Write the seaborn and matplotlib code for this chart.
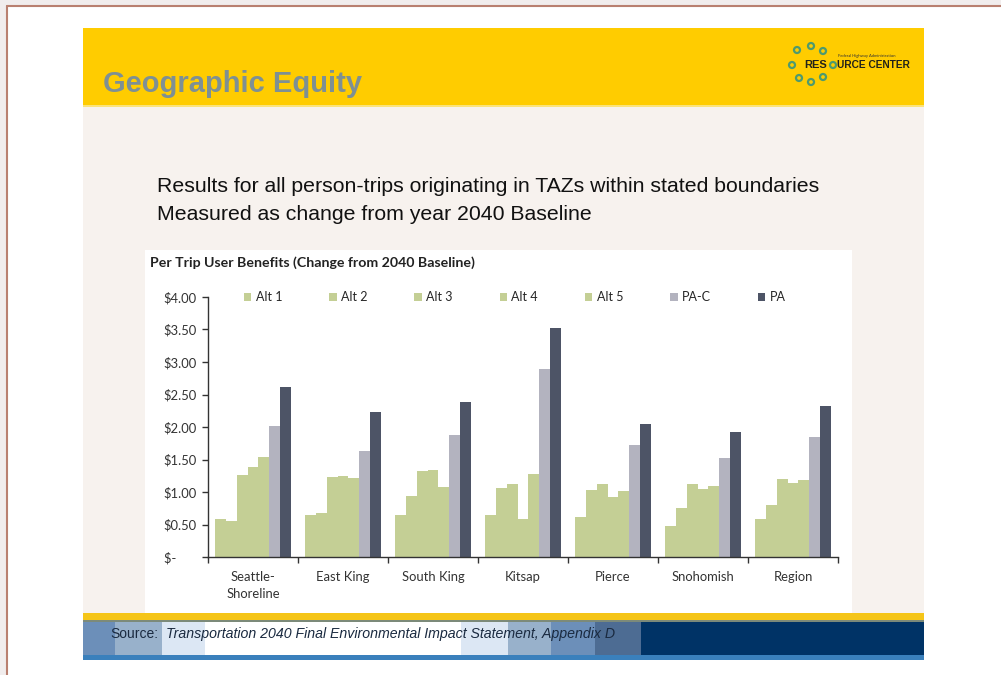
import matplotlib
matplotlib.use("Agg")
import matplotlib.pyplot as plt
import matplotlib.patches as mpatches
from matplotlib.ticker import FixedLocator, FuncFormatter
import numpy as np
import pandas as pd
import seaborn as sns

# ---- dados ----
regions = ["Seattle-\nShoreline", "East King", "South King", "Kitsap", "Pierce", "Snohomish", "Region"]
series = ["Alt 1", "Alt 2", "Alt 3", "Alt 4", "Alt 5", "PA-C", "PA"]
alt1 = [0.58, 0.65, 0.64, 0.65, 0.61, 0.47, 0.59]
alt2 = [0.55, 0.67, 0.94, 1.06, 1.03, 0.75, 0.80]
alt3 = [1.26, 1.23, 1.32, 1.13, 1.13, 1.12, 1.20]
alt4 = [1.38, 1.25, 1.34, 0.59, 0.92, 1.04, 1.14]
alt5 = [1.54, 1.22, 1.07, 1.28, 1.01, 1.09, 1.18]
pac = [2.01, 1.63, 1.87, 2.90, 1.72, 1.52, 1.84]
pa = [2.61, 2.23, 2.38, 3.53, 2.04, 1.92, 2.33]
y_ticks = [0, 0.5, 1.0, 1.5, 2.0, 2.5, 3.0, 3.5, 4.0]

values = [alt1, alt2, alt3, alt4, alt5, pac, pa]
df = pd.DataFrame([(r, s, v) for s, vals in zip(series, values) for r, v in zip(regions, vals)],
                  columns=["region", "series", "value"])

GREEN = "#C4CF95"
palette = {"Alt 1": GREEN, "Alt 2": GREEN, "Alt 3": GREEN, "Alt 4": GREEN,
           "Alt 5": GREEN, "PA-C": "#B3B3BF", "PA": "#4D5466"}

sns.set_theme(style="white")
plt.rcParams["font.family"] = ["Lato", "DejaVu Sans"]
ARIAL = ["Liberation Sans", "DejaVu Sans"]

W, H = 1001, 675
fig = plt.figure(figsize=(W / 100, H / 100), dpi=100)
fig.patch.set_facecolor("#F1EDED")

# ---- fundo do slide em coordenadas de pixel ----
bg = fig.add_axes([0, 0, 1, 1])
bg.set_xlim(0, W); bg.set_ylim(H, 0); bg.axis("off")

def rect(x0, y0, x1, y1, color, z=1):
    bg.add_patch(mpatches.Rectangle((x0, y0), x1 - x0, y1 - y0, facecolor=color, edgecolor="none", zorder=z))

rect(7, 6, W, H, "#FFFFFF")
bg.plot([6.5, 6.5], [5.5, H], color="#B98070", lw=1.5, zorder=2)
bg.plot([6.5, W], [5.5, 5.5], color="#B98070", lw=1.5, zorder=2)

rect(83, 28, 924, 105, "#FFCC00")
rect(83, 105, 924, 107, "#FBE37A")
rect(83, 107, 924, 615, "#F7F2EE")
rect(145, 250, 852, 613, "#FFFFFF", z=2)
# rodape
rect(83, 613, 924, 620, "#F5C518")
rect(83, 620, 924, 622, "#7C8A7A")
stripes = [(83, 115, "#6C8FB9"), (115, 162, "#98B1CB"), (162, 205, "#DCE7F4"), (205, 461, "#FFFFFF"),
           (461, 508, "#DCE7F4"), (508, 551, "#98B1CB"), (551, 595, "#6C8FB9"), (595, 641, "#4D6C93"),
           (641, 924, "#003366")]
for x0, x1, c in stripes:
    rect(x0, 622, x1, 655, c)
rect(83, 655, 924, 660, "#3A80BC")

bg.text(103, 84, "Geographic Equity", fontsize=21, fontweight="bold", color="#7E9094",
        family=ARIAL, va="center", ha="left", zorder=3)
bg.text(157, 186, "Results for all person-trips originating in TAZs within stated boundaries",
        fontsize=15.3, color="#111111", family=ARIAL, va="center", zorder=3)
bg.text(157, 214, "Measured as change from year 2040 Baseline",
        fontsize=15.3, color="#111111", family=ARIAL, va="center", zorder=3)
bg.text(110, 634, "Source:", fontsize=10, color="#1A2A40", family=ARIAL, va="center", zorder=3)
bg.text(166, 634, "Transportation 2040 Final Environmental Impact Statement, Appendix D", fontsize=10.2,
        style="italic", color="#1A2A40", family=ARIAL, va="center", zorder=3)

# logo
ring = "#4E9A6E"
for cx, cy in [(797, 50), (811, 46), (823, 51), (792, 65), (799, 78), (811, 82), (823, 77), (833, 65)]:
    bg.add_patch(mpatches.Circle((cx, cy), 3.0, facecolor="none", edgecolor=ring, lw=1.6, zorder=3))
bg.text(804, 65.5, "RES", fontsize=8, fontweight="bold", color="#22221A", va="center",
        family=ARIAL, zorder=3)
bg.text(837, 65.5, "URCE CENTER", fontsize=7.3, fontweight="bold", color="#22221A", va="center",
        family=ARIAL, zorder=3)
bg.text(838, 56, "Federal Highway Administration", fontsize=3, color="#333333", va="center", zorder=3)

# titulo do grafico
bg.text(150, 263, "Per Trip User Benefits (Change from 2040 Baseline)", fontsize=10.2,
        fontweight="bold", color="#222222", va="center", zorder=3)

# ---- grafico ----
ax = fig.add_axes([208 / W, (H - 557) / H, (838 - 208) / W, (557 - 297) / H])
ax.set_zorder(5)
ax.patch.set_alpha(0)
sns.barplot(data=df, x="region", y="value", hue="series", hue_order=series, order=regions,
            palette=palette, width=0.84, gap=0, linewidth=0, saturation=1, ax=ax, legend=True)

ax.set_xlim(-0.5, len(regions) - 0.5)
ax.set_ylim(0, 4.0)
ax.set_xlabel(""); ax.set_ylabel("")
ax.set_yticks(y_ticks)
ax.yaxis.set_major_formatter(FuncFormatter(lambda v, p: "$-      " if v == 0 else f"${v:.2f}"))
ax.xaxis.set_minor_locator(FixedLocator(np.arange(-0.5, len(regions), 1.0)))
ax.tick_params(axis="x", which="major", length=0, pad=10, labelsize=9.4, colors="#333333")
ax.tick_params(axis="x", which="minor", length=4, width=1, direction="out", color="#333333", bottom=True)
ax.tick_params(axis="y", which="major", length=4, width=1, direction="out", left=True, pad=4,
               labelsize=9.4, colors="#333333")
for lbl in ax.get_xticklabels():
    lbl.set_linespacing(1.5)
for s in ["top", "right"]:
    ax.spines[s].set_visible(False)
for s in ["left", "bottom"]:
    ax.spines[s].set_color("#333333")
    ax.spines[s].set_linewidth(1)

handles, labels = ax.get_legend_handles_labels()
ax.legend(handles, labels, ncol=7, loc="center", bbox_to_anchor=(0.487, 1.0), frameon=False,
          fontsize=9, handlelength=0.6, handleheight=0.6, handletextpad=0.35, columnspacing=3.75,
          borderaxespad=0)

fig.savefig("out.png", dpi=100)
